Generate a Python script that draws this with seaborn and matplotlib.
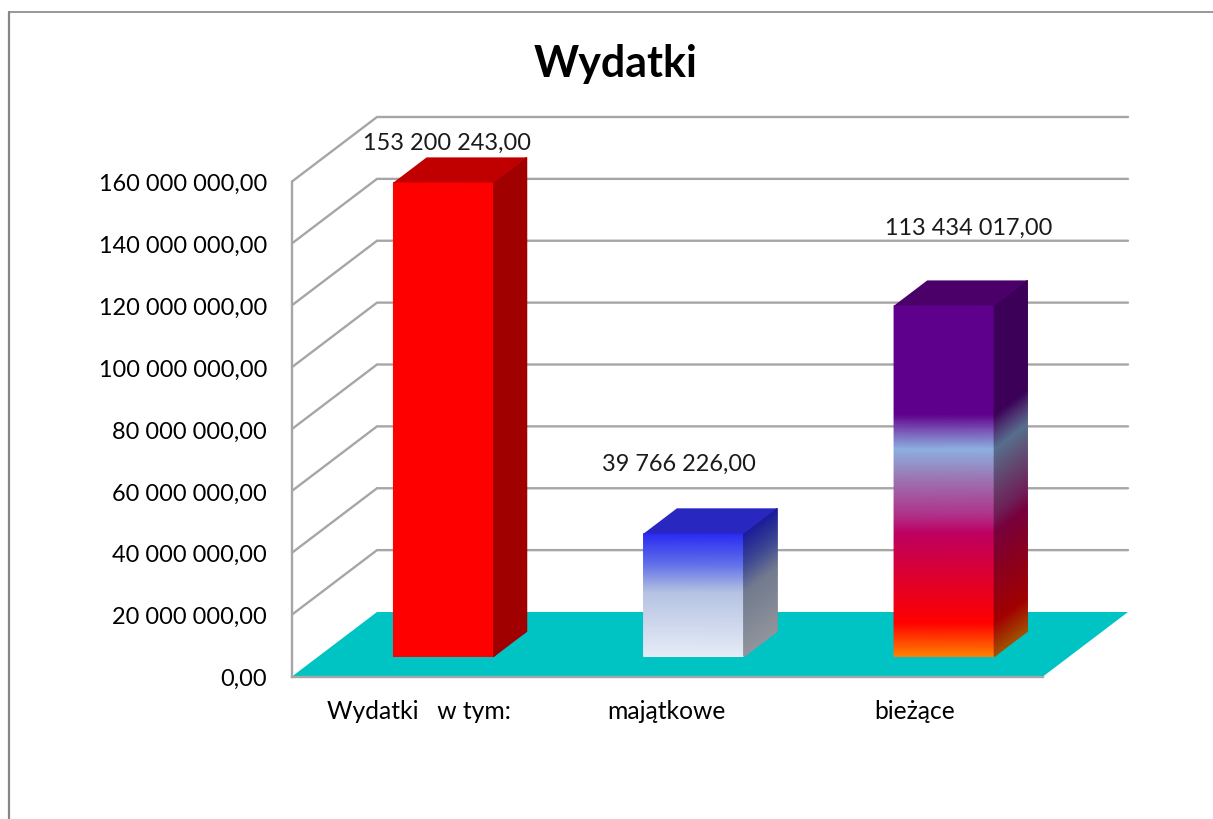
import numpy as np
import pandas as pd
import matplotlib
matplotlib.use("Agg")
import matplotlib.pyplot as plt
import seaborn as sns
from matplotlib.colors import LinearSegmentedColormap, to_rgb
from matplotlib.lines import Line2D
from matplotlib.patches import Polygon
from matplotlib.ticker import FuncFormatter

categories = ["Wydatki   w tym:", "majątkowe", "bieżące"]
values = [153200243.0, 39766226.0, 113434017.0]
value_labels = ["153 200 243,00", "39 766 226,00", "113 434 017,00"]
y_ticks = [0, 20e6, 40e6, 60e6, 80e6, 100e6, 120e6, 140e6, 160e6]
title = "Wydatki"

# gradients of the front faces, top to bottom
red_stops = [(0.0, "#FF0000"), (1.0, "#FF0000")]
blue_stops = [(0.0, "#2A2AF2"), (0.25, "#6070E8"), (0.48, "#B5C2E2"), (1.0, "#E6ECF7")]
purple_stops = [(0.0, "#5F008C"), (0.31, "#5F008C"), (0.36, "#7B5AB8"), (0.41, "#8CB0E0"),
                (0.5, "#9D72B0"), (0.6, "#B03088"), (0.65, "#BE0060"), (0.77, "#DC0030"),
                (0.905, "#FF0000"), (1.0, "#FF8000")]
all_stops = [red_stops, blue_stops, purple_stops]
top_colors = ["#C00000", "#2828C0", "#4A0068"]
label_offsets = [(3, 40), (-15, 70), (25, 78)]  # px from the top of the bar

GREY = "#A6A6A6"
TEAL = "#00C4C4"
W, H = 1213, 820

sns.set_theme(style="white")
plt.rcParams["font.family"] = ["Lato", "DejaVu Sans"]

fig = plt.figure(figsize=(W / 100, H / 100), dpi=100, facecolor="white")
ax = fig.add_axes([292 / W, (H - 677.5) / H, 751 / W, 495 / H])

px_x = 751 / 3            # px for one category
px_y = 495 / max(y_ticks)  # px for one unit of value
depth_x = 85 / px_x
depth_y = 64.5 / px_y
bar_start = 0.31  # where the bars stand on the floor, 0 front, 1 back
bar_depth = 0.39
floor_level = bar_start * depth_y

# numeric x so the faces can be drawn on the same axis
positions = np.arange(len(categories))
df = pd.DataFrame({"pozycja": positions, "wartosc": values})
sns.barplot(data=df, x="pozycja", y="wartosc", color="white", width=0.4, native_scale=True,
            bottom=floor_level, zorder=3, linewidth=0, ax=ax)

ax.set_xlim(-0.5, 2.5)
ax.set_ylim(0, max(y_ticks))
ax.set_xlabel("")
ax.set_ylabel("")
# labels in the original sit a little closer together than the bars
ax.set_xticks(positions * 0.99 + 0.007)
ax.set_xticklabels(categories)
ax.set_yticks(y_ticks)
ax.yaxis.set_major_formatter(FuncFormatter(lambda v, _: f"{v:,.2f}".replace(",", " ").replace(".", ",")))
ax.tick_params(axis="y", length=0, pad=18, labelsize=16.9, labelcolor="black")
ax.tick_params(axis="x", length=0, pad=16, labelsize=17.7, labelcolor="black")
ax.patch.set_visible(False)
sns.despine(ax=ax, top=True, right=True)
for side in ["left", "bottom"]:
    ax.spines[side].set_color(GREY)
    ax.spines[side].set_linewidth(1.7)
    ax.spines[side].set_zorder(2)

# floor
ax.add_patch(Polygon([(-0.5, 0), (2.5, 0), (2.5 + depth_x, depth_y), (-0.5 + depth_x, depth_y)],
                     closed=True, facecolor=TEAL, edgecolor="none", zorder=1, clip_on=False))

# walls: side diagonal + back line for each level above the floor
for level in y_ticks[1:]:
    ax.plot([-0.5, -0.5 + depth_x, 2.5 + depth_x], [level, level + depth_y, level + depth_y],
            color=GREY, lw=1.7, zorder=1.5, clip_on=False, solid_joinstyle="miter")


def draw_face(xs, ys, cmap):
    # xs, ys have shape (rows, 2); colour runs along the rows
    shade = np.repeat(np.linspace(0, 1, xs.shape[0])[:, None], 2, axis=1)
    ax.pcolormesh(xs, ys, shade, cmap=cmap, vmin=0, vmax=1, shading="gouraud",
                  zorder=3.2, clip_on=False)


bars = list(ax.containers[0])
for patch, stops, top_color, val_label, offset in zip(bars, all_stops, top_colors,
                                                      value_labels, label_offsets):
    # bar stands deeper in the chart, so move it along the floor
    patch.set_x(patch.get_x() + bar_start * depth_x)
    patch.set_facecolor(stops[-1][1])
    x0 = patch.get_x()
    x1 = x0 + patch.get_width()
    y_top = patch.get_y() + patch.get_height()
    y_bot = patch.get_y()
    bx = bar_depth * depth_x
    by = bar_depth * depth_y

    front_cmap = LinearSegmentedColormap.from_list("front", stops, N=512)
    side_cmap = LinearSegmentedColormap.from_list(
        "side", [(p, tuple(0.63 * c for c in to_rgb(col))) for p, col in stops], N=512)

    rows = np.linspace(y_top, y_bot, 220)
    xs = np.column_stack([np.full_like(rows, x0), np.full_like(rows, x1)])
    ys = np.column_stack([rows, rows])
    draw_face(xs, ys, front_cmap)

    xs = np.column_stack([np.full_like(rows, x1), np.full_like(rows, x1 + bx)])
    ys = np.column_stack([rows, rows + by])
    draw_face(xs, ys, side_cmap)

    ax.add_patch(Polygon([(x0, y_top), (x1, y_top), (x1 + bx, y_top + by), (x0 + bx, y_top + by)],
                         closed=True, facecolor=top_color, edgecolor="none", zorder=3.2, clip_on=False))

    ax.annotate(val_label, xy=((x0 + x1) / 2, y_top),
                xytext=(offset[0] * 0.72, offset[1] * 0.72), textcoords="offset points",
                ha="center", va="center", fontsize=16.9, color="#1a1a1a", zorder=5,
                annotation_clip=False)

ax.set_xlim(-0.5, 2.5)
ax.set_ylim(0, max(y_ticks))

fig.text(616 / W, (H - 64) / H, title, ha="center", va="center",
         fontsize=31, fontweight="bold", color="black")

# outer frame of the sheet: left and top only
fig.add_artist(Line2D([9 / W, 9 / W], [0, (H - 13) / H], color="#868686", lw=1.6))
fig.add_artist(Line2D([9 / W, 1], [(H - 13) / H, (H - 13) / H], color="#868686", lw=1.2))

fig.savefig("out.png", dpi=100)
